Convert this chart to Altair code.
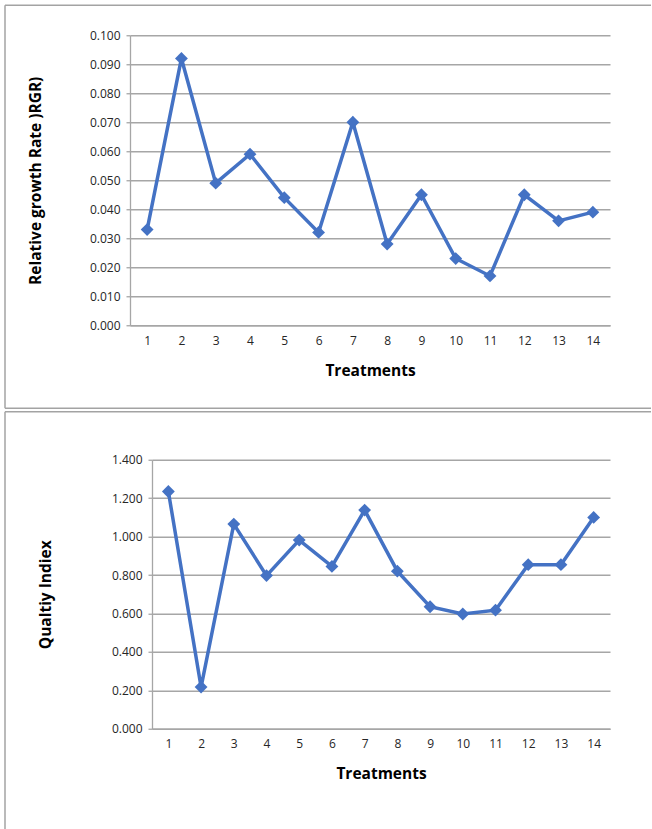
import altair as alt
import pandas as pd

# Treatments on the x axis
treatments = list(range(1, 15))

# Relative growth rate per treatment
rgr = [0.033, 0.092, 0.049, 0.059, 0.044, 0.032, 0.070,
       0.028, 0.045, 0.023, 0.017, 0.045, 0.036, 0.039]

# Quality index per treatment
quality = [1.235, 0.217, 1.065, 0.797, 0.982, 0.845, 1.138,
           0.820, 0.635, 0.597, 0.617, 0.854, 0.854, 1.100]

# Y axis tick values
rgr_ticks = [0.000, 0.010, 0.020, 0.030, 0.040, 0.050,
             0.060, 0.070, 0.080, 0.090, 0.100]
quality_ticks = [0.0, 0.2, 0.4, 0.6, 0.8, 1.0, 1.2, 1.4]

LINE = "#4472C4"
GRID = "#A6A6A6"
FRAME = "#A3A3A3"
FONT = "Open Sans"


def frame_rule(x, x2=None, y=None, y2=None):
    enc = {"x": alt.value(x), "y": alt.value(y)}
    if x2 is not None:
        enc["x2"] = alt.value(x2)
    if y2 is not None:
        enc["y2"] = alt.value(y2)
    return (
        alt.Chart(pd.DataFrame({"k": [0]}))
        .mark_rule(color=FRAME, strokeWidth=1.5)
        .encode(**enc)
    )


def panel(values, ticks, ytitle, width, height, ytitle_x, left, top, right, bottom):
    df = pd.DataFrame({"Treatment": treatments, "Value": values})
    x = alt.X(
        "Treatment:O",
        axis=alt.Axis(
            title="Treatments", labelAngle=0, ticks=False, labelPadding=10,
            domainColor=GRID, domainWidth=1.3,
            titleX=width / 2, titleY=45, titleAlign="center", titleBaseline="middle",
        ),
    )
    y = alt.Y(
        "Value:Q",
        scale=alt.Scale(domain=[ticks[0], ticks[-1]], nice=False, zero=True),
        axis=alt.Axis(
            values=ticks, format=".3f", title=ytitle,
            tickSize=4, tickColor=GRID, tickWidth=1.3, labelPadding=6,
            domainColor=GRID, domainWidth=1.3,
            grid=True, gridColor=GRID, gridWidth=1.3,
            titleX=ytitle_x, titleY=height / 2, titleAngle=-90,
            titleAlign="center", titleBaseline="middle",
        ),
    )
    base = alt.Chart(df).encode(x=x, y=y)
    line = base.mark_line(color=LINE, strokeWidth=3.5)
    pts = base.mark_point(shape="diamond", filled=True, size=165, color=LINE, opacity=1)

    layers = [
        frame_rule(left, x2=right, y=top),
        frame_rule(left, y=top, y2=bottom if bottom is not None else height + 120),
    ]
    if bottom is not None:
        layers.append(frame_rule(left, x2=right, y=bottom))
    layers += [line, pts]
    return alt.layer(*layers).properties(width=width, height=height)


p1 = panel(rgr, rgr_ticks, "Relative growth Rate )RGR)", 480, 290, -95,
           left=-125, top=-30, right=521, bottom=373)
p2 = panel(quality, quality_ticks, "Qualtiy Indiex", 458, 269, -107,
           left=-147, top=-48, right=499, bottom=None)

# narrow invisible first column, so each panel is placed by its own frame edge
spacer = (
    alt.Chart(pd.DataFrame({"k": [0]}))
    .mark_point(size=0, opacity=0)
    .encode(x=alt.value(0), y=alt.value(0))
    .properties(width=1, height=1)
)

chart = (
    alt.concat(spacer, p1, spacer, p2, columns=2, align="none",
               spacing={"row": 1.5, "column": 0})
    .properties(padding={"left": 3, "top": 4.25, "right": 0, "bottom": 0},
                background="white")
    .configure_view(stroke=None)
    .configure_axis(
        labelFont=FONT, labelFontSize=12, labelColor="#262626",
        titleFont=FONT, titleFontSize=15.5, titleFontWeight="bold", titleColor="#000000",
    )
)

chart.save("out.html", embed_options={"renderer": "svg", "actions": False})
